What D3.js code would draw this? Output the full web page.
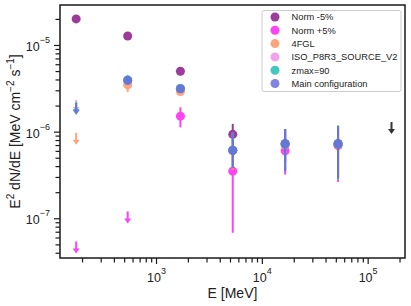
<!DOCTYPE html>
<html>
<head>
<meta charset="utf-8">
<script src="https://cdn.jsdelivr.net/npm/d3@7"></script>
<style>
  body { margin: 0; background: #fff; }
  svg { display: block; font-family: "Liberation Sans", Arial, sans-serif; }
</style>
</head>
<body>
<svg id="chart" width="411" height="306"></svg>
<script>
// energies of the six bins plus the last upper limit bin
const energies = [176, 540, 1700, 5310, 16600, 52500];
const ulEnergy = 168000;

// each point: [value, errLow, errHigh] or {ul: value}
const normMinus = [[2.0e-5, 1.9e-5, 2.1e-5], [1.27e-5, 1.2e-5, 1.34e-5], [4.97e-6, 4.7e-6, 5.25e-6],
                   [9.3e-7, 6.2e-7, 1.23e-6], [7.3e-7, 4.5e-7, 1.07e-6], [7.3e-7, 2.9e-7, 1.15e-6]];
const normPlus  = [{ul: 5.4e-8}, {ul: 1.2e-7}, [1.51e-6, 1.12e-6, 1.91e-6],
                   [3.5e-7, 6.8e-8, 6.0e-7], [6.0e-7, 3.2e-7, 9.5e-7], [6.9e-7, 2.63e-7, 1.1e-6]];
const fgl4      = [{ul: 9.7e-7}, [3.46e-6, 2.87e-6, 4.0e-6], [2.9e-6, 2.65e-6, 3.2e-6],
                   [6.0e-7, 3.6e-7, 9.5e-7], [7.0e-7, 3.6e-7, 1.05e-6], [7.0e-7, 2.8e-7, 1.15e-6]];
const isoSource = [{ul: 2.32e-6}, [3.9e-6, 3.5e-6, 4.4e-6], [3.13e-6, 2.9e-6, 3.4e-6],
                   [6.1e-7, 3.8e-7, 9.8e-7], [7.2e-7, 3.5e-7, 1.07e-6], [7.2e-7, 2.8e-7, 1.17e-6]];
const zmax90    = [{ul: 2.2e-6}, [3.95e-6, 3.5e-6, 4.5e-6], [3.15e-6, 2.9e-6, 3.45e-6],
                   [6.1e-7, 3.8e-7, 9.8e-7], [7.2e-7, 3.5e-7, 1.07e-6], [7.2e-7, 2.8e-7, 1.17e-6]];
const mainConf  = [{ul: 2.14e-6}, [3.9e-6, 3.5e-6, 4.4e-6], [3.13e-6, 2.9e-6, 3.4e-6],
                   [6.1e-7, 3.8e-7, 9.8e-7], [7.2e-7, 3.5e-7, 1.07e-6], [7.2e-7, 2.9e-7, 1.17e-6]];
const lastUL = 1.29e-6;

const seriesNames = ["Norm -5%", "Norm +5%", "4FGL", "ISO_P8R3_SOURCE_V2", "zmax=90", "Main configuration"];
const seriesData = [normMinus, normPlus, fgl4, isoSource, zmax90, mainConf];
const seriesColors = ["#8b1a89", "#ff22f5", "#ff9466", "#ee92ea", "#22bdb4", "#6a6ddc"];

const xTicks = [1e3, 1e4, 1e5];
const yTicks = [1e-7, 1e-6, 1e-5];

const svg = d3.select("#chart");
const mLeft = 60, mRight = 405, mTop = 5, mBottom = 258;

const x = d3.scaleLog().domain([123.8, 225300]).range([mLeft, mRight]);
const y = d3.scaleLog().domain([3.48e-8, 2.894e-5]).range([mBottom, mTop]);

// minor ticks
function minors(lo, hi) {
  const out = [];
  for (let e = Math.floor(Math.log10(lo)); e <= Math.ceil(Math.log10(hi)); e++) {
    for (let m = 2; m <= 9; m++) {
      const v = m * Math.pow(10, e);
      if (v >= lo && v <= hi) out.push(v);
    }
  }
  return out;
}

const axisColor = "#1a1a1a";
const gx = svg.append("g").attr("transform", `translate(0,${mBottom})`);
gx.call(d3.axisBottom(x).tickValues(minors(123.8, 225300)).tickSize(4.5).tickFormat(""));
gx.append("g").call(d3.axisBottom(x).tickValues(xTicks).tickSize(6).tickFormat(""));
gx.selectAll("path").remove();
gx.selectAll("line").attr("stroke", axisColor).attr("stroke-width", 1.2);

const gy = svg.append("g").attr("transform", `translate(${mLeft},0)`);
gy.call(d3.axisLeft(y).tickValues(minors(3.48e-8, 2.894e-5)).tickSize(4.5).tickFormat(""));
gy.append("g").call(d3.axisLeft(y).tickValues(yTicks).tickSize(6).tickFormat(""));
gy.selectAll("path").remove();
gy.selectAll("line").attr("stroke", axisColor).attr("stroke-width", 1.2);

// tick labels with superscript exponent
xTicks.forEach(v => {
  const t = svg.append("text")
    .attr("x", x(v) - 9).attr("y", 282)
    .attr("font-size", 12.5).attr("fill", "#222");
  t.append("tspan").text("10");
  t.append("tspan").attr("dy", -8).attr("font-size", 9).text(Math.round(Math.log10(v)));
});
yTicks.forEach(v => {
  const t = svg.append("text")
    .attr("x", 50).attr("y", y(v) + 6)
    .attr("text-anchor", "end")
    .attr("font-size", 12.5).attr("fill", "#222");
  t.append("tspan").text("10");
  t.append("tspan").attr("dy", -8).attr("font-size", 9).text("\u2212" + Math.abs(Math.round(Math.log10(v))));
});

// axis titles
svg.append("text")
  .attr("x", (mLeft + mRight) / 2).attr("y", 298)
  .attr("text-anchor", "middle").attr("font-size", 14).attr("fill", "#222")
  .text("E [MeV]");

const yl = svg.append("text")
  .attr("transform", `translate(20,${(mTop + mBottom) / 2}) rotate(-90)`)
  .attr("text-anchor", "middle").attr("font-size", 14).attr("fill", "#222");
yl.append("tspan").text("E");
yl.append("tspan").attr("dy", -6).attr("font-size", 10).text("2");
yl.append("tspan").attr("dy", 6).text(" dN/dE [MeV cm");
yl.append("tspan").attr("dy", -6).attr("font-size", 10).text("\u22122");
yl.append("tspan").attr("dy", 6).text(" s");
yl.append("tspan").attr("dy", -6).attr("font-size", 10).text("\u22121");
yl.append("tspan").attr("dy", 6).text("]");

// data marks
const plot = svg.append("g");

function drawUL(g, xv, yv, color) {
  const px = x(xv), py = y(yv);
  g.append("line")
    .attr("x1", px).attr("x2", px).attr("y1", py).attr("y2", py + 8)
    .attr("stroke", color).attr("stroke-width", 2);
  g.append("path")
    .attr("d", `M${px - 3.5},${py + 7} L${px + 3.5},${py + 7} L${px},${py + 12} Z`)
    .attr("fill", color);
}

seriesData.forEach((data, si) => {
  const color = seriesColors[si];
  const g = plot.append("g").attr("opacity", 0.85);
  data.forEach((d, i) => {
    const e = energies[i];
    if (!Array.isArray(d)) {
      drawUL(g, e, d.ul, color);
      return;
    }
    g.append("line")
      .attr("x1", x(e)).attr("x2", x(e))
      .attr("y1", y(d[1])).attr("y2", y(d[2]))
      .attr("stroke", color).attr("stroke-width", 2);
    g.append("circle")
      .attr("cx", x(e)).attr("cy", y(d[0])).attr("r", 4.5)
      .attr("fill", color);
  });
});

drawUL(plot.append("g"), ulEnergy, lastUL, "#333");

// frame
svg.append("rect")
  .attr("x", mLeft).attr("y", mTop)
  .attr("width", mRight - mLeft).attr("height", mBottom - mTop)
  .attr("fill", "none").attr("stroke", axisColor).attr("stroke-width", 1.5);

// legend
const lg = svg.append("g");
lg.append("rect")
  .attr("x", 262).attr("y", 10.5).attr("width", 139).attr("height", 81)
  .attr("rx", 2).attr("fill", "#fff").attr("fill-opacity", 0.8)
  .attr("stroke", "#ccc").attr("stroke-width", 1);
seriesNames.forEach((name, i) => {
  const yy = 17 + i * 13.3;
  lg.append("circle").attr("cx", 275).attr("cy", yy).attr("r", 4.5)
    .attr("fill", seriesColors[i]).attr("opacity", 0.85);
  lg.append("text").attr("x", 291.5).attr("y", yy + 3.4)
    .attr("font-size", 9.3).attr("fill", "#222").text(name);
});
</script>
</body>
</html>
